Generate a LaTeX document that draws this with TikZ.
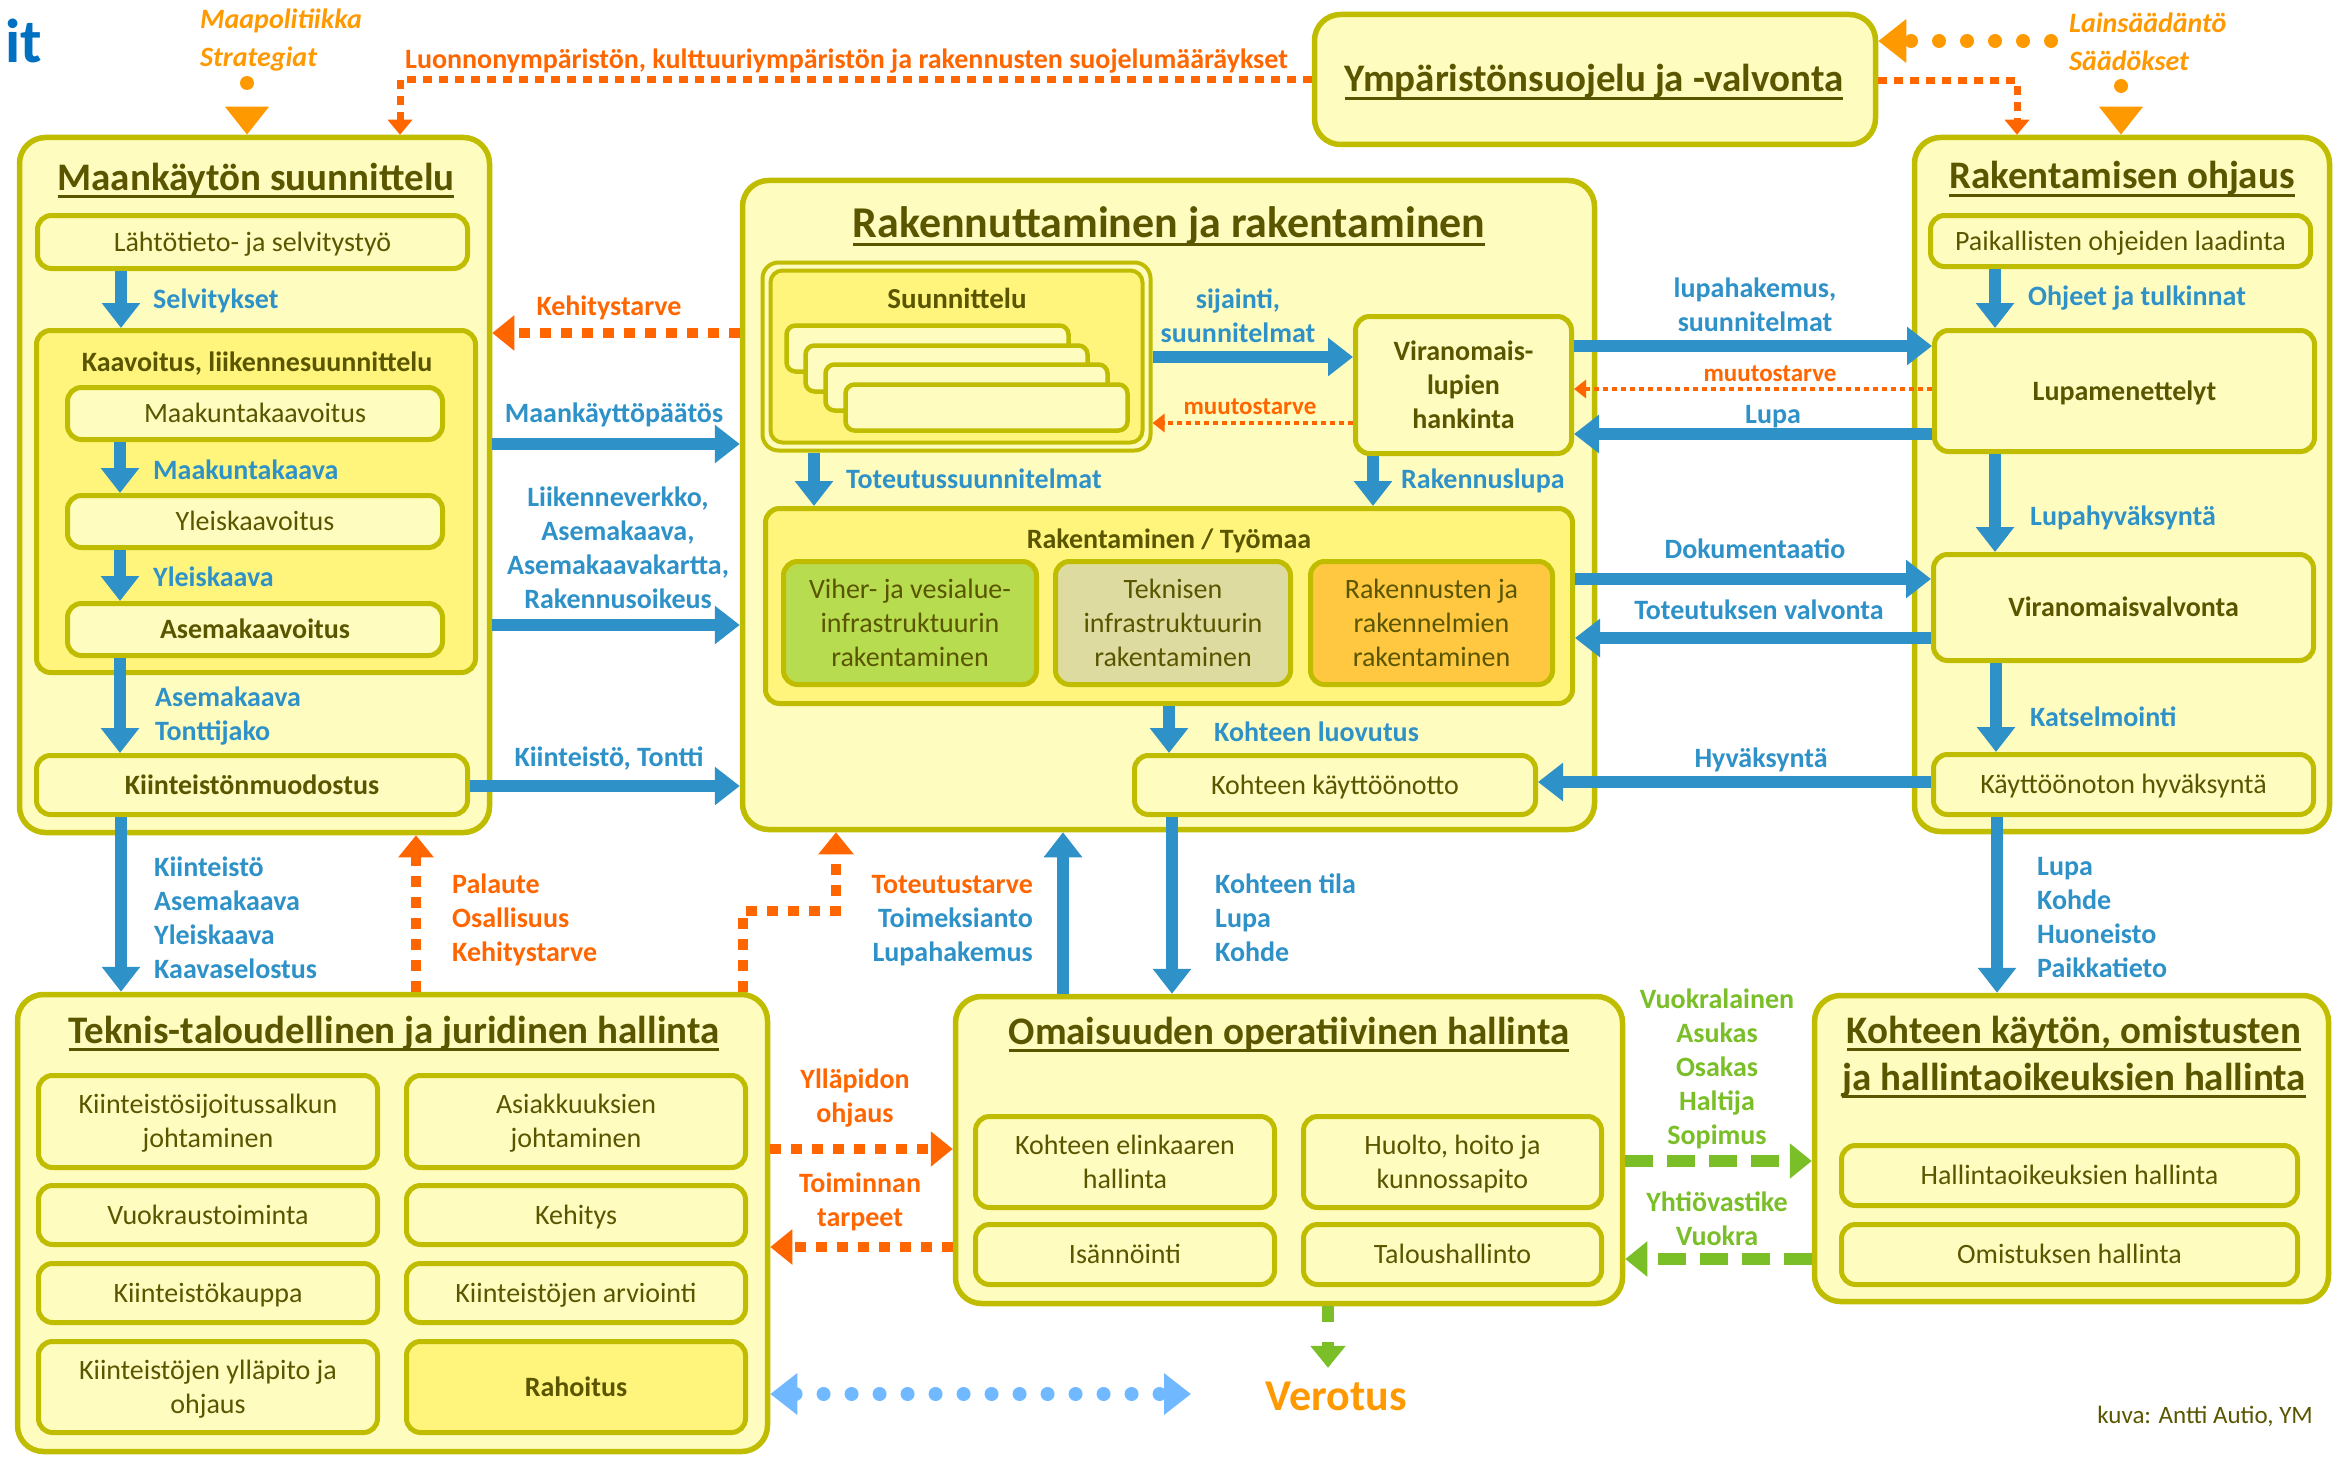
\documentclass[tikz,border=0pt]{standalone}
\usepackage{fontspec}
\setmainfont{Carlito}
\usetikzlibrary{arrows.meta}
\definecolor{pale}{RGB}{255,252,192}
\definecolor{yel2}{RGB}{255,245,125}
\definecolor{olv}{RGB}{192,188,0}
\definecolor{olvtxt}{RGB}{90,86,0}
\definecolor{bluea}{RGB}{46,146,200}
\definecolor{orng}{RGB}{255,102,0}
\definecolor{orng2}{RGB}{255,153,0}
\definecolor{grn}{RGB}{122,190,40}
\definecolor{lblue}{RGB}{112,184,255}
\definecolor{itblue}{RGB}{0,112,192}
\definecolor{gfill}{RGB}{184,220,80}
\definecolor{tfill}{RGB}{221,219,160}
\definecolor{ofill}{RGB}{255,200,64}
\newcommand\ULn[1]{\setbox0\hbox{#1}\rlap{\rule[-0.2em]{\wd0}{0.065em}}\box0}
\newcommand\BX[6]{\node[#1, minimum width={#5-#3-5}, minimum height={#6-#4-5}] (#2) at ({(#3+#5)/2},{(#4+#6)/2})}
\begin{document}
\begin{tikzpicture}[x=1pt,y=-1pt,
 big/.style={draw=olv, line width=5.5pt, fill=pale, rounded corners=26pt, inner sep=0pt},
 sub/.style={draw=olv, line width=5pt, fill=pale, rounded corners=14pt, inner sep=0pt, text=olvtxt, font=\fontsize{28}{34}\selectfont, align=center, text height=18pt, text depth=0pt},
 subb/.style={sub, font=\bfseries\fontsize{28}{34}\selectfont},
 dk/.style={fill=yel2},
 ltwo/.style={text height=52pt},
 lthree/.style={text height=86pt},
 lfour/.style={text height=120pt},
 lfive/.style={text height=154pt},
 lab/.style={inner sep=0pt, font=\bfseries\fontsize{28}{34}\selectfont, text height=18pt, text depth=0pt},
 bl/.style={lab, text=bluea, align=left},
 ol/.style={lab, text=orng, align=left},
 oi/.style={lab, text=orng2, align=left, font=\bfseries\itshape\fontsize{28}{38}\selectfont, text height=56pt},
 gl/.style={lab, text=grn, align=center},
 ttl/.style={anchor=base, inner sep=0pt, text=olvtxt, font=\bfseries\fontsize{39}{46}\selectfont},
 barrow/.style={draw=bluea, line width=12pt, -{Triangle[length=25pt,width=37pt]}},
 oarrow/.style={draw=orng, line width=10pt, dash pattern=on 11pt off 10pt, -{Triangle[length=22pt,width=34pt]}},
 othin/.style={draw=orng, line width=7pt, dash pattern=on 9pt off 7pt, -{Triangle[length=15pt,width=24pt]}},
 omut/.style={draw=orng, line width=4pt, dash pattern=on 5pt off 4pt, -{Triangle[length=12pt,width=18pt]}},
 odot/.style={draw=orng2, line width=14pt, line cap=round, dash pattern=on 0pt off 28pt, -{Triangle[length=28pt,width=42pt]}},
 gdash/.style={draw=grn, line width=12pt, dash pattern=on 28pt off 14pt, -{Triangle[length=22pt,width=34pt]}},
 lbdot/.style={draw=lblue, line width=14pt, line cap=round, dash pattern=on 0pt off 28pt, {Triangle[length=27pt,width=40pt]}-{Triangle[length=27pt,width=40pt]}}
]
\fill[white] (0,0) rectangle (2338,1461);
\useasboundingbox (0,0) rectangle (2338,1461);

% big boxes
\BX{big}{maa}{17}{135}{492}{835}{};
\BX{big}{ymp}{1312}{12}{1878}{147}{};
\BX{big}{rak}{740}{178}{1597}{832}{};
\BX{big}{ohj}{1912}{135}{2332}{834}{};
\BX{big}{tek}{15}{992}{770}{1454}{};
\BX{big}{oma}{953}{994}{1625}{1306}{};
\BX{big}{koh}{1812}{993}{2331}{1304}{};

% titles
\node[ttl] (t1) at (256,190) {\ULn{Maankäytön suunnittelu}};
\node[ttl] (t2) at (1594,92) {\ULn{Ympäristönsuojelu ja -valvonta}};
\node[ttl, font=\bfseries\fontsize{44}{50}\selectfont] (t3) at (1169,237) {\ULn{Rakennuttaminen ja rakentaminen}};
\node[ttl] (t4) at (2122,189) {\ULn{Rakentamisen ohjaus}};
\node[ttl] (t5) at (394,1043) {\ULn{Teknis-taloudellinen ja juridinen hallinta}};
\node[ttl] (t6) at (1289,1044) {\ULn{Omaisuuden operatiivinen hallinta}};
\node[ttl] (t7) at (2074,1043) {\ULn{Kohteen käytön, omistusten}};
\node[ttl] (t8) at (2074,1090) {\ULn{ja hallintaoikeuksien hallinta}};

% Maankäytön suunnittelu
\BX{sub}{lahto}{35}{213}{470}{271}{Lähtötieto- ja selvitystyö};
\BX{sub,dk}{kaav}{34}{328}{478}{675}{};
\node[lab, text=olvtxt] (kaavt) at (257,362) {Kaavoitus, liikennesuunnittelu};
\BX{sub}{mkk}{65}{385}{445}{442}{Maakuntakaavoitus};
\BX{sub}{ylk}{65}{493}{445}{550}{Yleiskaavoitus};
\BX{subb}{ase}{65}{601}{445}{658}{Asemakaavoitus};
\BX{subb}{kiin}{34}{753}{470}{817}{Kiinteistönmuodostus};

% Rakennuttaminen
\BX{sub, line width=4pt, rounded corners=16pt}{suun}{760}{260}{1153}{453}{};
\BX{sub, dk, line width=4pt, rounded corners=12pt}{suuni}{768}{268}{1145}{445}{};
\node[lab, text=olvtxt, font=\bfseries\fontsize{29}{34}\selectfont] (suunt) at (957,299) {Suunnittelu};
\BX{sub, line width=4.5pt, rounded corners=9pt}{c1}{784}{323}{1071}{374}{};
\BX{sub, line width=4.5pt, rounded corners=9pt}{c2}{803}{343}{1090}{394}{};
\BX{sub, line width=4.5pt, rounded corners=9pt}{c3}{823}{362}{1110}{413}{};
\BX{sub, line width=4.5pt, rounded corners=9pt}{c4}{843}{382}{1130}{433}{};
\BX{subb,lthree}{vir}{1353}{314}{1574}{456}{Viranomais-\\lupien\\hankinta};
\BX{sub,dk}{tyo}{763}{506}{1575}{706}{};
\node[lab, text=olvtxt] (tyot) at (1169,539) {Rakentaminen / Työmaa};
\BX{sub, fill=gfill, lthree}{vih}{781}{559}{1039}{687}{Viher- ja vesialue-\\infrastruktuurin\\rakentaminen};
\BX{sub, fill=tfill, lthree}{tkn}{1053}{559}{1293}{687}{Teknisen\\infrastruktuurin\\rakentaminen};
\BX{sub, fill=ofill, lthree}{rkn}{1308}{559}{1555}{687}{Rakennusten ja\\rakennelmien\\rakentaminen};
\BX{sub}{kayt}{1132}{753}{1538}{817}{Kohteen käyttöönotto};

% Rakentamisen ohjaus
\BX{sub}{paik}{1928}{213}{2313}{269}{Paikallisten ohjeiden laadinta};
\BX{subb}{lupa}{1932}{328}{2317}{454}{Lupamenettelyt};
\BX{subb}{vval}{1931}{552}{2316}{663}{Viranomaisvalvonta};
\BX{sub}{khyv}{1931}{752}{2316}{817}{Käyttöönoton hyväksyntä};

% Teknis-taloudellinen
\BX{sub,ltwo}{k1}{36}{1073}{380}{1170}{Kiinteistösijoitussalkun\\johtaminen};
\BX{sub,ltwo}{k2}{404}{1073}{748}{1170}{Asiakkuuksien\\johtaminen};
\BX{sub}{k3}{36}{1183}{380}{1247}{Vuokraustoiminta};
\BX{sub}{k4}{404}{1183}{748}{1247}{Kehitys};
\BX{sub}{k5}{36}{1261}{380}{1325}{Kiinteistökauppa};
\BX{sub}{k6}{404}{1261}{748}{1325}{Kiinteistöjen arviointi};
\BX{sub,ltwo}{k7}{36}{1339}{380}{1435}{Kiinteistöjen ylläpito ja\\ohjaus};
\BX{subb,dk}{k8}{404}{1339}{748}{1435}{Rahoitus};

% Omaisuuden operatiivinen hallinta
\BX{sub,ltwo}{o1}{973}{1114}{1277}{1210}{Kohteen elinkaaren\\hallinta};
\BX{sub,ltwo}{o2}{1301}{1114}{1604}{1210}{Huolto, hoito ja\\kunnossapito};
\BX{sub}{o3}{973}{1222}{1277}{1287}{Isännöinti};
\BX{sub}{o4}{1301}{1222}{1604}{1287}{Taloushallinto};

% Kohteen käytön ...
\BX{sub}{h1}{1839}{1143}{2300}{1208}{Hallintaoikeuksien hallinta};
\BX{sub}{h2}{1839}{1222}{2300}{1287}{Omistuksen hallinta};

% free texts
\node[anchor=base east, inner sep=0pt, text=itblue, font=\bfseries\fontsize{62}{62}\selectfont] (logo) at (42,63) {it};
\node[oi, anchor=west] (lm) at (200,39) {Maapolitiikka\\Strategiat};
\node[oi, anchor=west] (ll) at (2069,42.5) {Lainsäädäntö\\Säädökset};
\node[lab, text=orng2, font=\bfseries\fontsize{44}{50}\selectfont, text height=28pt] (vero) at (1336,1396) {Verotus};
\node[lab, text=olvtxt, font=\fontsize{25}{30}\selectfont, text height=16pt, anchor=east] (kuva) at (2313,1415) {kuva: Antti Autio, YM};
\coordinate (mp) at (247,83);
\coordinate (sd) at (2121,86);
\coordinate (ls) at (2051,41);
\coordinate (lbe) at (1191,1394);

% blue arrows
\draw[barrow] (lahto.south -| 121,0) -- (kaav.north -| 121,0);
\draw[barrow] (mkk.south -| 120,0) -- (ylk.north -| 120,0);
\draw[barrow] (ylk.south -| 120,0) -- (ase.north -| 120,0);
\draw[barrow] (ase.south -| 120,0) -- (kiin.north -| 120,0);
\draw[barrow] (kiin.south -| 121,0) -- (tek.north -| 121,0);
\draw[barrow] (maa.east |- 0,444) -- (rak.west |- 0,444);
\draw[barrow] (maa.east |- 0,625) -- (rak.west |- 0,625);
\draw[barrow] (kiin.east |- 0,786) -- (rak.west |- 0,786);
\draw[barrow] (suun.east |- 0,357) -- (vir.west |- 0,357);
\draw[barrow] (suun.south -| 814,0) -- (tyo.north -| 814,0);
\draw[barrow] (vir.south -| 1373,0) -- (tyo.north -| 1373,0);
\draw[barrow] (vir.east |- 0,346) -- (lupa.west |- 0,346);
\draw[barrow] (lupa.west |- 0,434) -- (vir.east |- 0,434);
\draw[barrow] (paik.south -| 1995,0) -- (lupa.north -| 1995,0);
\draw[barrow] (lupa.south -| 1995,0) -- (vval.north -| 1995,0);
\draw[barrow] (tyo.east |- 0,579) -- (vval.west |- 0,579);
\draw[barrow] (vval.west |- 0,638) -- (tyo.east |- 0,638);
\draw[barrow] (vval.south -| 1996,0) -- (khyv.north -| 1996,0);
\draw[barrow] (khyv.west |- 0,782) -- (kayt.east |- 0,782);
\draw[barrow] (tyo.south -| 1169,0) -- (kayt.north -| 1169,0);
\draw[barrow] (kayt.south -| 1172,0) -- (oma.north -| 1172,0);
\draw[barrow] (oma.north -| 1063,0) -- (rak.south -| 1063,0);
\draw[barrow] (khyv.south -| 1997,0) -- (koh.north -| 1997,0);

% orange arrows
\draw[othin] (ymp.west |- 0,80) -- (400,80) -- (maa.north -| 400,0);
\draw[othin] (ymp.east |- 0,81) -- (2017,81) -- (ohj.north -| 2017,0);
\draw[oarrow] (rak.west |- 0,333) -- (maa.east |- 0,333);
\draw[oarrow] (tek.north -| 416,0) -- (maa.south -| 416,0);
\draw[oarrow] (tek.north -| 743,0) -- (743,911) -- (836,911) -- (rak.south -| 836,0);
\draw[oarrow] (tek.east |- 0,1149) -- (oma.west |- 0,1149);
\draw[oarrow] (oma.west |- 0,1247) -- (tek.east |- 0,1247);
\draw[omut] (vir.west |- 0,423) -- (suun.east |- 0,423);
\draw[omut] (lupa.west |- 0,389) -- (vir.east |- 0,389);
\draw[odot] (mp) -- (maa.north -| 247,0);
\draw[odot] (sd) -- (ohj.north -| 2121,0);
\draw[odot] (ls) -- (ymp.east |- 0,41);

% green arrows
\draw[gdash] (oma.east |- 0,1161) -- (koh.west |- 0,1161);
\draw[gdash] (koh.west |- 0,1259) -- (oma.east |- 0,1259);
\draw[gdash, dash pattern=on 16pt off 20pt] (oma.south -| 1328,0) -- ([yshift=14pt]vero.north -| 1328,0);

% light blue
\draw[lbdot] (tek.east |- 0,1394) -- (lbe);

% blue labels
\node[bl, anchor=west] (lb1) at (153,299) {Selvitykset};
\node[bl, anchor=west] (lb2) at (153,470) {Maakuntakaava};
\node[bl, anchor=west] (lb3) at (153,577) {Yleiskaava};
\node[bl, anchor=west, ltwo] (lb4) at (155,714) {Asemakaava\\Tonttijako};
\node[bl, anchor=west, lfour] (lb5) at (154,918.5) {Kiinteistö\\Asemakaava\\Yleiskaava\\Kaavaselostus};
\node[bl, align=center] (lb6) at (614,413) {Maankäyttöpäätös};
\node[bl, align=center, lfour] (lb7) at (618,548.5) {Liikenneverkko,\\Asemakaava,\\Asemakaavakartta,\\Rakennusoikeus};
\node[bl] (lb8) at (609,757) {Kiinteistö, Tontti};
\node[bl, align=center, ltwo] (lb9) at (1238,316) {sijainti,\\suunnitelmat};
\node[bl, anchor=west] (lb10) at (846,479) {Toteutussuunnitelmat};
\node[bl, anchor=west] (lb11) at (1401,479) {Rakennuslupa};
\node[bl, align=center, ltwo] (lb12) at (1755,305.5) {lupahakemus,\\suunnitelmat};
\node[bl] (lb13) at (1773,414) {Lupa};
\node[bl, anchor=west] (lb14) at (2028,296) {Ohjeet ja tulkinnat};
\node[bl, anchor=west] (lb15) at (2030,516) {Lupahyväksyntä};
\node[bl] (lb16) at (1755,549) {Dokumentaatio};
\node[bl] (lb17) at (1759,610) {Toteutuksen valvonta};
\node[bl, anchor=west] (lb18) at (2030,717) {Katselmointi};
\node[bl] (lb19) at (1761,758) {Hyväksyntä};
\node[bl, anchor=west] (lb20) at (1214,732) {Kohteen luovutus};
\node[bl, anchor=west, lthree] (lb21) at (1215,918) {Kohteen tila\\Lupa\\Kohde};
\node[bl, anchor=east, align=right, lthree] (lb22) at (1033,918) {\textcolor{orng}{Toteutustarve}\\Toimeksianto\\Lupahakemus};
\node[bl, anchor=west, lfour] (lb23) at (2037,917.5) {Lupa\\Kohde\\Huoneisto\\Paikkatieto};

% orange labels
\node[ol, anchor=west] (lo1) at (405,60) {Luonnonympäristön, kulttuuriympäristön ja rakennusten suojelumääräykset};
\node[ol] (lo2) at (609,306) {Kehitystarve};
\node[ol, font=\bfseries\fontsize{25}{30}\selectfont, text height=16pt] (lo3) at (1250,406) {muutostarve};
\node[ol, font=\bfseries\fontsize{25}{30}\selectfont, text height=16pt] (lo4) at (1770,373) {muutostarve};
\node[ol, anchor=west, lthree] (lo5) at (452,918) {Palaute\\Osallisuus\\Kehitystarve};
\node[ol, align=center, ltwo] (lo6) at (855,1096) {Ylläpidon\\ohjaus};
\node[ol, align=center, ltwo] (lo7) at (860,1200) {Toiminnan\\tarpeet};

% green labels
\node[gl, lfive] (g1) at (1717,1067.5) {Vuokralainen\\Asukas\\Osakas\\Haltija\\Sopimus};
\node[gl, ltwo] (g2) at (1717,1219) {Yhtiövastike\\Vuokra};
\end{tikzpicture}
\end{document}
